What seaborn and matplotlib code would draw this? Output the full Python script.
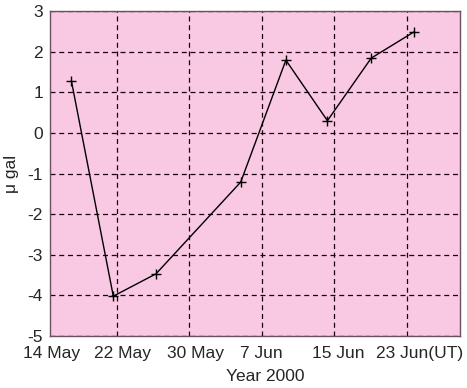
import matplotlib
matplotlib.use("Agg")
import matplotlib.pyplot as plt
import matplotlib.dates as mdates
import matplotlib.transforms as mtransforms
import seaborn as sns
import pandas as pd

# Data
dates = ["2000-05-17 00:00", "2000-05-21 15:00", "2000-05-26 08:00", "2000-06-04 16:30",
         "2000-06-09 16:00", "2000-06-14 06:00", "2000-06-19 02:00", "2000-06-23 20:00"]
values = [1.28, -4.02, -3.47, -1.21, 1.79, 0.30, 1.84, 2.49]

tick_dates = ["2000-05-14", "2000-05-22", "2000-05-30", "2000-06-07", "2000-06-15", "2000-06-23"]
tick_labels = ["14 May", "22 May", "30 May", "7 Jun", "15 Jun", "23 Jun(UT)"]
yticks = [-5, -4, -3, -2, -1, 0, 1, 2, 3]

sns.set_style("white")
plt.rcParams["font.family"] = ["Liberation Sans", "DejaVu Sans"]
plt.rcParams["axes.unicode_minus"] = False

df = pd.DataFrame({"date": pd.to_datetime(dates), "value": values})

fig = plt.figure(figsize=(4.67, 3.88), dpi=100)
ax = fig.add_axes([50 / 467, 1 - 336 / 388, 410 / 467, 325 / 388])
ax.set_facecolor("#f9c8e2")

sns.lineplot(data=df, x="date", y="value", ax=ax, color="black", linewidth=1.0,
             marker="+", markersize=7.5, markeredgewidth=1.0, markeredgecolor="black")

t0 = pd.Timestamp("2000-05-14")
ax.set_xlim(t0 + pd.Timedelta(days=0.64), pd.Timestamp("2000-06-23") + pd.Timedelta(days=5.88))
ax.set_ylim(-5, 3)

tds = pd.to_datetime(tick_dates)
ax.set_xticks(tds[1:])
ax.set_xticklabels(["" for _ in tick_labels[1:]])
ax.set_yticks(yticks)
ax.set_yticklabels([str(v) for v in yticks], fontsize=12.5)

ax.grid(True, color="#1a0010", linestyle=(0, (4, 3)), linewidth=0.9)
ax.tick_params(axis="both", direction="in", length=0, pad=5)

# x tick labels as text (first date lies just left of the axes)
trans = mtransforms.blended_transform_factory(ax.transData, ax.transAxes)
offsets = [7, 6, 6, 0, 4, 13]
for d, lab, off in zip(tds, tick_labels, offsets):
    ax.annotate(lab, xy=(mdates.date2num(d), 0), xycoords=trans,
                xytext=(off * 0.72, -7.5), textcoords="offset points",
                ha="center", va="top", fontsize=12.5, annotation_clip=False)

for s in ax.spines.values():
    s.set_color("#6a5060")
    s.set_linewidth(1.0)

ax.set_xlabel("Year 2000", fontsize=12.5)
ax.xaxis.set_label_coords(0.524, -0.102, transform=ax.transAxes)
ax.xaxis.label.set_va("top")
ax.set_ylabel("μ gal", fontsize=12.5, labelpad=6)

fig.savefig("out.png", dpi=100)
